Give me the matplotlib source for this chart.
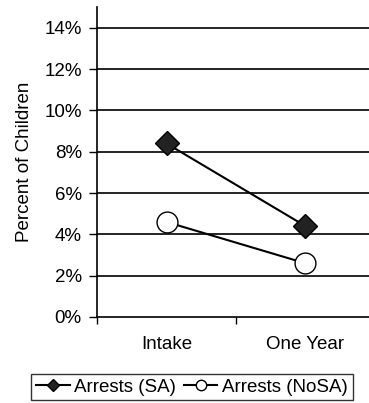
#!/usr/bin/env python3
"""Arrest rates at intake and one year, SA vs NoSA children."""

import matplotlib.pyplot as plt

plt.rcParams["font.family"] = ["Liberation Sans", "DejaVu Sans"]

CATEGORIES = ["Intake", "One Year"]
ARRESTS_SA = [8.4, 4.4]
ARRESTS_NOSA = [4.6, 2.6]
Y_TICKS = [0, 2, 4, 6, 8, 10, 12, 14]

FS = 13.5

fig = plt.figure(figsize=(3.69, 4.03), dpi=100)
ax = fig.add_axes([0.263, 0.2134, 0.753, 0.769])

x = [0.5, 1.5]
ax.plot(x, ARRESTS_SA, color="black", linewidth=1.5, marker="D", markersize=12,
        markerfacecolor="#222222", markeredgecolor="black", label="Arrests (SA)", zorder=3)
ax.plot(x, ARRESTS_NOSA, color="black", linewidth=1.5, marker="o", markersize=15,
        markerfacecolor="white", markeredgecolor="black", label="Arrests (NoSA)", zorder=3)

ax.set_xlim(0, 2)
ax.set_ylim(0, 15)
ax.set_yticks(Y_TICKS)
ax.set_yticklabels([f"{v}%" for v in Y_TICKS])
ax.set_xticks([0, 1, 2])
ax.set_xticklabels([])
ax.set_xticks(x, minor=True)
ax.set_xticklabels(CATEGORIES, minor=True)
ax.tick_params(axis="x", which="minor", length=0, pad=14, labelsize=FS)
ax.tick_params(axis="x", which="major", length=5, width=1)
ax.tick_params(axis="y", length=6, width=1, labelsize=FS, pad=5)

for v in Y_TICKS[1:]:
    ax.axhline(v, color="black", linewidth=1.2, zorder=1)

ax.spines["top"].set_visible(False)
ax.spines["right"].set_visible(False)
ax.spines["left"].set_linewidth(1.2)
ax.spines["bottom"].set_linewidth(1.2)
ax.set_ylabel("Percent of Children", fontsize=FS, labelpad=8)

fig.legend(loc="lower center", bbox_to_anchor=(0.52, 0.0), ncol=2, fontsize=FS,
           frameon=True, fancybox=False, edgecolor="black", markerscale=0.5,
           handlelength=1.8, handletextpad=0.25, columnspacing=0.4,
           borderpad=0.25, borderaxespad=0.15)

fig.savefig("out.png", dpi=100)
